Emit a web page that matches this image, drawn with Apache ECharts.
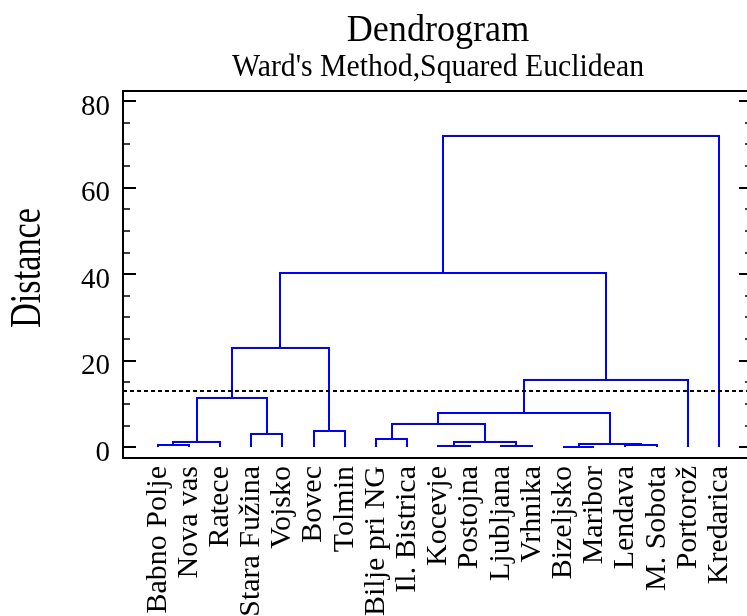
<!DOCTYPE html>
<html>
<head>
<meta charset="utf-8">
<script src="https://cdn.jsdelivr.net/npm/echarts@6/dist/echarts.min.js"></script>
<style>
html, body { margin: 0; padding: 0; background: #fff; }
#main { width: 747px; height: 616px; }
</style>
</head>
<body>
<div id="main"></div>
<script>
// leaves, in dendrogram order
const leaves = ['Babno Polje', 'Nova vas', 'Ratece', 'Stara Fužina', 'Vojsko', 'Bovec', 'Tolmin',
  'Bilje pri NG', 'Il. Bistrica', 'Kocevje', 'Postojna', 'Ljubljana', 'Vrhnika',
  'Bizeljsko', 'Maribor', 'Lendava', 'M. Sobota', 'Portorož', 'Kredarica']

// merges: [left, right, distance]; ids >= leaves.length point to earlier merges
const merges = [
  [0, 1, 0.4],
  [19, 2, 1.15],
  [3, 4, 2.9],
  [20, 21, 11.4],
  [5, 6, 3.6],
  [22, 23, 23.0],
  [7, 8, 1.85],
  [9, 10, 0.15],
  [11, 12, 0.15],
  [26, 27, 1.25],
  [25, 28, 5.3],
  [13, 14, 0.05],
  [15, 16, 0.35],
  [30, 31, 0.8],
  [29, 32, 7.9],
  [33, 17, 15.6],
  [24, 34, 40.3],
  [35, 18, 71.9]
]

const cutDistance = 13.1
const majorTicks = [0, 20, 40, 60, 80]
const minorTicks = [5, 10, 15, 25, 30, 35, 45, 50, 55, 65, 70, 75]

// node positions: leaves sit at their index, height 0
const pos = leaves.map((_, i) => [i, 0])
const links = []
merges.forEach(([l, r, h]) => {
  const a = pos[l]
  const b = pos[r]
  links.push([a[0], a[1], b[0], b[1], h])
  pos.push([(a[0] + b[0]) / 2, h])
})

const font = 'Liberation Serif, Times New Roman, serif'
const yMin = -2.55
const yMax = 82.31

const yTickAxis = (position, ticks, len, width, labels) => ({
  type: 'value',
  position: position,
  min: yMin,
  max: yMax,
  axisLine: { show: false, onZero: false },
  splitLine: { show: false },
  axisTick: {
    show: true,
    inside: true,
    length: len,
    customValues: ticks,
    lineStyle: { color: '#000', width: width }
  },
  axisLabel: labels ? {
    show: true,
    customValues: ticks,
    margin: 13,
    verticalAlign: 'top',
    lineHeight: 12,
    fontSize: 29,
    fontFamily: font,
    color: '#000'
  } : { show: false }
})

// snap to whole pixels so the 2px blue lines stay crisp
const snap = (p) => [Math.round(p[0]), Math.round(p[1])]

const chart = echarts.init(document.getElementById('main'))
chart.setOption({
  animation: false,
  backgroundColor: '#fff',
  grid: {
    left: 123,
    right: -5,
    top: 91,
    bottom: 158,
    show: true,
    borderColor: '#000',
    borderWidth: 2,
    containLabel: false,
    outerBoundsMode: 'none'
  },
  graphic: [
    {
      type: 'text', x: 438, y: 31, scaleX: 0.95,
      style: { text: 'Dendrogram', fontSize: 38, fontFamily: font, fill: '#000', align: 'center', verticalAlign: 'middle' }
    },
    {
      type: 'text', x: 438, y: 68, scaleX: 0.93,
      style: { text: "Ward's Method,Squared Euclidean", fontSize: 32, fontFamily: font, fill: '#000', align: 'center', verticalAlign: 'middle' }
    },
    {
      type: 'text', x: 28, y: 268, rotation: Math.PI / 2, scaleX: 0.78,
      style: { text: 'Distance', fontSize: 44, fontFamily: font, fill: '#000', align: 'center', verticalAlign: 'middle' }
    }
  ],
  xAxis: {
    type: 'value',
    min: -1.113,
    max: 19.058,
    axisLine: { show: false, onZero: false },
    axisTick: { show: false },
    splitLine: { show: false },
    axisLabel: {
      show: true,
      customValues: leaves.map((_, i) => i),
      formatter: (v) => leaves[Math.round(v)],
      rotate: 90,
      margin: 8,
      fontSize: 30,
      fontFamily: font,
      color: '#000'
    }
  },
  yAxis: [
    yTickAxis('left', majorTicks, 13, 2, true),
    yTickAxis('left', minorTicks, 7, 1.5, false),
    yTickAxis('right', majorTicks, 13, 2, false),
    yTickAxis('right', minorTicks, 7, 1.5, false)
  ],
  series: [
    {
      type: 'custom',
      xAxisIndex: 0,
      yAxisIndex: 0,
      data: links,
      encode: { x: [0, 2], y: [1, 3, 4] },
      renderItem: (params, api) => {
        const p1 = snap(api.coord([api.value(0), api.value(1)]))
        const p2 = snap(api.coord([api.value(0), api.value(4)]))
        const p3 = snap(api.coord([api.value(2), api.value(4)]))
        const p4 = snap(api.coord([api.value(2), api.value(3)]))
        return {
          type: 'polyline',
          shape: { points: [p1, p2, p3, p4] },
          style: { stroke: '#0000ff', lineWidth: 2, fill: null }
        }
      },
      markLine: {
        silent: true,
        symbol: ['none', 'none'],
        label: { show: false },
        lineStyle: { color: '#000', type: [4, 3], width: 2 },
        data: [{ yAxis: cutDistance }]
      }
    }
  ]
})
</script>
</body>
</html>
